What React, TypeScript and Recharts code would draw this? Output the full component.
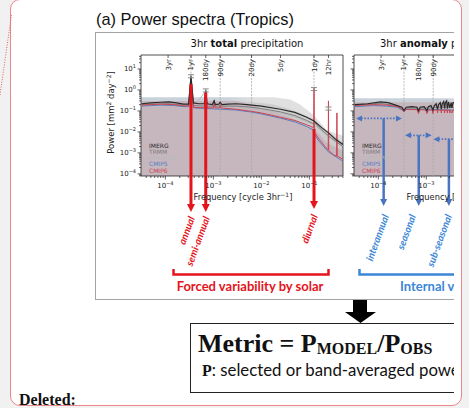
import React from "react";
import {
  ComposedChart,
  Line,
  Area,
  XAxis,
  YAxis,
  ReferenceLine,
  ReferenceArea,
  Scatter,
} from "recharts";

// frequency in cycles per 3hr, power in mm^2 day^-2
const X_DOMAIN: [number, number] = [3.11e-5, 0.502];
const X_DOMAIN_ANOM: [number, number] = [3.11e-5, 4.15e-3]; // right part is cut off by the page
const Y_DOMAIN: [number, number] = [7.9e-5, 46.4];

const xMajor = [1e-4, 1e-3, 1e-2, 1e-1];
const yMajor = [1e-4, 1e-3, 1e-2, 1e-1, 1, 10];

const periodNames = ["3yr", "1yr", "180dy", "90dy", "20dy", "5dy", "1dy", "12hr"];
const periodFreqs = [1.14e-4, 3.42e-4, 6.94e-4, 1.39e-3, 6.25e-3, 0.025, 0.125, 0.25];
const periodGrid = [false, true, false, true, true, false, true, false];

const seriesNames = ["IMERG", "TRMM", "CMORPH", "CMIP5", "CMIP6"];

// --- 3hr total precipitation ---
const imergTotal = [
  [3.2e-5, 0.22], [5e-5, 0.24], [8e-5, 0.26], [1.2e-4, 0.27], [1.7e-4, 0.24], [2.4e-4, 0.21],
  [3.05e-4, 0.21], [3.42e-4, 4.5], [3.85e-4, 0.24], [5e-4, 0.22], [6.5e-4, 0.22], [6.94e-4, 0.95],
  [7.4e-4, 0.22], [9.5e-4, 0.2], [1.04e-3, 0.3], [1.1e-3, 0.2], [1.3e-3, 0.21], [1.39e-3, 0.26],
  [1.5e-3, 0.2], [2e-3, 0.21], [3e-3, 0.22], [5e-3, 0.2], [1e-2, 0.17], [0.025, 0.12], [0.05, 0.085],
  [0.088, 0.05], [0.125, 0.033], [0.18, 0.016], [0.25, 0.009], [0.35, 0.0045], [0.5, 0.0025],
];
const trmmTotal = [
  [3.2e-5, 0.2], [8e-5, 0.22], [1.2e-4, 0.22], [2.4e-4, 0.19], [3.05e-4, 0.19], [3.42e-4, 4.3],
  [3.85e-4, 0.18], [6.5e-4, 0.17], [6.94e-4, 0.9], [7.4e-4, 0.17], [1e-3, 0.17], [3e-3, 0.17],
  [6.25e-3, 0.15], [1e-2, 0.13], [0.025, 0.09], [0.05, 0.06], [0.088, 0.035], [0.12, 0.025],
  [0.13, 0.027], [0.16, 0.016], [0.25, 0.0065], [0.35, 0.0035], [0.5, 0.002],
];
const cmorphTotal = [
  [3.2e-5, 0.19], [1.2e-4, 0.2], [3.05e-4, 0.18], [3.42e-4, 4.0], [3.85e-4, 0.17], [6.94e-4, 0.85],
  [7.4e-4, 0.16], [3e-3, 0.16], [1e-2, 0.12], [0.025, 0.08], [0.05, 0.052], [0.088, 0.03],
  [0.125, 0.022], [0.16, 0.014], [0.25, 0.006], [0.5, 0.0022],
];
const cmip5Total = [
  [3.2e-5, 0.17], [8e-5, 0.19], [1.5e-4, 0.18], [2.6e-4, 0.16], [3.05e-4, 0.16], [3.42e-4, 1.5],
  [3.85e-4, 0.14], [6.5e-4, 0.13], [6.94e-4, 0.5], [7.4e-4, 0.13], [3e-3, 0.11], [6.25e-3, 0.088],
  [1e-2, 0.072], [0.025, 0.045], [0.05, 0.03], [0.088, 0.018], [0.123, 0.012], [0.127, 0.0075],
  [0.16, 0.0035], [0.25, 0.0011], [0.5, 0.0004],
];
const cmip6Total = [
  [3.2e-5, 0.19], [8e-5, 0.21], [1.5e-4, 0.2], [2.6e-4, 0.17], [3.05e-4, 0.17], [3.42e-4, 2.2],
  [3.85e-4, 0.15], [6.5e-4, 0.14], [6.94e-4, 0.8], [7.4e-4, 0.14], [1e-3, 0.14], [1.04e-3, 0.32],
  [1.09e-3, 0.14], [1.35e-3, 0.14], [1.39e-3, 0.2], [1.43e-3, 0.14], [3e-3, 0.12], [6.25e-3, 0.095],
  [1e-2, 0.08], [0.025, 0.05], [0.05, 0.035], [0.088, 0.022], [0.123, 0.016], [0.125, 1.2],
  [0.127, 0.0095], [0.16, 0.0045], [0.22, 0.0018], [0.247, 0.0014], [0.25, 0.3], [0.253, 0.0013],
  [0.32, 0.0008], [0.37, 0.0007], [0.375, 0.08], [0.38, 0.0007], [0.5, 0.0005],
];
const shadeTotalF = [3.1e-5, 3e-3, 6.25e-3, 1e-2, 0.018, 0.04, 0.064, 0.125, 0.23, 0.51];
const shadeTotalEnv = [0.45, 0.45, 0.45, 0.45, 0.45, 0.35, 0.2, 0.06, 0.012, 0.0065];
const shadeTotalObs = [0.3, 0.3, 0.27, 0.24, 0.2, 0.12, 0.08, 0.04, 0.012, 0.003];
const shadeTotalMod = [0.3, 0.3, 0.2, 0.12, 0.09, 0.05, 0.03, 0.015, 0.003, 0.0012];
const obsPeaksTotal = [[3.42e-4, 4.5], [6.94e-4, 0.95], [0.125, 1.1], [0.25, 0.13]];
const forcedArrows = [
  { f: 3.42e-4, from: 1.9, to: 1.5e-6 },
  { f: 6.94e-4, from: 0.75, to: 1.5e-6 },
  { f: 0.125, from: 0.014, to: 2.1e-6 },
];

// --- 3hr anomaly precipitation ---
const imergAnom = [
  [3.2e-5, 0.2], [6e-5, 0.22], [1.1e-4, 0.27], [1.6e-4, 0.25], [2.3e-4, 0.19], [3.1e-4, 0.15],
  [3.42e-4, 0.105], [3.8e-4, 0.15], [5e-4, 0.16], [6.4e-4, 0.15], [6.85e-4, 0.1], [7.4e-4, 0.15],
  [9e-4, 0.16], [1.03e-3, 0.1], [1.1e-3, 0.16], [1.25e-3, 0.18], [1.37e-3, 0.11], [1.45e-3, 0.17],
  [1.6e-3, 0.22], [1.71e-3, 0.12], [1.8e-3, 0.2], [1.95e-3, 0.25], [2.05e-3, 0.12], [2.15e-3, 0.22],
  [2.3e-3, 0.28], [2.4e-3, 0.13], [2.5e-3, 0.25], [2.65e-3, 0.3], [2.74e-3, 0.13], [2.9e-3, 0.27],
  [3.08e-3, 0.14], [3.3e-3, 0.25], [3.42e-3, 0.14], [3.6e-3, 0.25], [1e-2, 0.2],
];
const trmmAnom = [
  [3.2e-5, 0.19], [1.1e-4, 0.23], [2.3e-4, 0.18], [3.42e-4, 0.1], [3.8e-4, 0.14], [6.4e-4, 0.14],
  [6.85e-4, 0.1], [7.4e-4, 0.14], [1.33e-3, 0.14], [1.37e-3, 0.1], [1.45e-3, 0.15], [3.6e-3, 0.15],
  [1e-2, 0.15],
];
const cmorphAnom = [
  [3.2e-5, 0.17], [1.1e-4, 0.2], [3.42e-4, 0.1], [3.8e-4, 0.13], [3.6e-3, 0.13], [1e-2, 0.13],
];
const cmip5Anom = [
  [3.2e-5, 0.16], [8e-5, 0.18], [1.5e-4, 0.17], [2.5e-4, 0.15], [3.42e-4, 0.1], [3.8e-4, 0.12],
  [6e-4, 0.12], [1e-3, 0.12], [3.6e-3, 0.11], [1e-2, 0.11],
];
const cmip6Anom = [
  [3.2e-5, 0.18], [8e-5, 0.2], [1.5e-4, 0.19], [2.5e-4, 0.16], [3.1e-4, 0.13], [3.42e-4, 0.09],
  [3.8e-4, 0.12], [6.4e-4, 0.115], [6.85e-4, 0.075], [7.4e-4, 0.115], [9.8e-4, 0.11], [1.03e-3, 0.075],
  [1.1e-3, 0.11], [1.33e-3, 0.11], [1.37e-3, 0.075], [1.42e-3, 0.11], [1.68e-3, 0.11], [1.71e-3, 0.08],
  [1.75e-3, 0.11], [2.02e-3, 0.11], [2.05e-3, 0.08], [2.09e-3, 0.11], [2.37e-3, 0.11], [2.4e-3, 0.08],
  [2.44e-3, 0.11], [2.71e-3, 0.11], [2.74e-3, 0.08], [2.78e-3, 0.11], [3.05e-3, 0.11], [3.08e-3, 0.08],
  [3.12e-3, 0.11], [3.42e-3, 0.08], [3.6e-3, 0.11], [1e-2, 0.11],
];
const shadeAnomF = [3.1e-5, 0.51];
const shadeAnomEnv = [0.4, 0.4];
const shadeAnomObs = [0.26, 0.26];
const shadeAnomMod = [0.26, 0.26];
const internalArrows = [
  { f: 1.29e-4, from: 0.044, to: 2.9e-6 },
  { f: 6.94e-4, from: 0.0069, to: 2.9e-6 },
  { f: 2.95e-3, from: 0.0045, to: 2.9e-6 },
];
const internalBands = [
  { lo: 3.43e-5, hi: 3.1e-4, p: 0.044 },
  { lo: 3.6e-4, hi: 1.29e-3, p: 0.0069 },
  { lo: 1.4e-3, hi: 1e-2, p: 0.0045 },
];

const COLORS: Record<string, string> = {
  IMERG: "#2a2a2a",
  TRMM: "#7d7d7d",
  CMORPH: "#b9b9b9",
  CMIP5: "#5a80bf",
  CMIP6: "#cc4452",
};
const DRAW_ORDER = ["CMORPH", "TRMM", "CMIP5", "CMIP6", "IMERG"];
const RED = "#e5141c";
const BLUE = "#4a74c0";
const LBLUE = "#3b86d6";
const MPL = "DejaVu Sans, sans-serif";
const CAL = "Lato, 'Open Sans', sans-serif";

const toPts = (a: number[][]) => a.map(([f, p]) => ({ f, p }));

function logTicks(lo: number, hi: number) {
  const out: number[] = [];
  for (let k = -6; k <= 2; k++) {
    for (let m = 1; m <= 9; m++) {
      const v = m * Math.pow(10, k);
      if (v >= lo && v <= hi) out.push(v);
    }
  }
  return out;
}
const yTicks = logTicks(Y_DOMAIN[0], Y_DOMAIN[1]);

const isMajor = (v: number, majors: number[]) => majors.some((m) => Math.abs(m - v) / m < 1e-6);
const expo = (v: number) => {
  const e = Math.round(Math.log10(v));
  return e < 0 ? `\u2212${-e}` : `${e}`;
};

const XTick = (props: any) => {
  const { x, y, payload } = props;
  const major = isMajor(payload.value, xMajor);
  return (
    <g>
      <line x1={x} x2={x} y1={y} y2={y + (major ? 3.5 : 2)} stroke="#222" strokeWidth={0.7} />
      {major && (
        <text x={x} y={y + 12} textAnchor="middle" fontSize={7} fontFamily={MPL} fill="#222">
          10
          <tspan dy={-3} fontSize={5}>
            {expo(payload.value)}
          </tspan>
        </text>
      )}
    </g>
  );
};

const makeYTick = (labels: boolean) => (props: any) => {
  const { x, y, payload } = props;
  const major = isMajor(payload.value, yMajor);
  return (
    <g>
      <line x1={x - (major ? 3.5 : 2)} x2={x} y1={y} y2={y} stroke="#222" strokeWidth={0.7} />
      {labels && major && (
        <text x={x - 5} y={y + 2.5} textAnchor="end" fontSize={7} fontFamily={MPL} fill="#222">
          10
          <tspan dy={-3} fontSize={5}>
            {expo(payload.value)}
          </tspan>
        </text>
      )}
    </g>
  );
};

const periodLabel = (text: string) => (props: any) => {
  const vb = props.viewBox || {};
  const x = vb.x;
  const y = vb.y;
  return (
    <g>
      <line x1={x} x2={x} y1={y} y2={y + 3} stroke="#222" strokeWidth={0.7} />
      <text
        transform={`translate(${x + 2.5},${y + 4}) rotate(-90)`}
        textAnchor="end"
        fontSize={7}
        fontFamily={MPL}
        fill="#222"
      >
        {text}
      </text>
    </g>
  );
};

const vArrow = (color: string, w: number, hw: number, hl: number) => (props: any) => {
  const { x1, y1, y2 } = props;
  const top = Math.min(y1, y2);
  const bot = Math.max(y1, y2);
  return (
    <g>
      <line x1={x1} x2={x1} y1={top} y2={bot - hl + 1} stroke={color} strokeWidth={w} />
      <polygon points={`${x1 - hw},${bot - hl} ${x1 + hw},${bot - hl} ${x1},${bot}`} fill={color} />
    </g>
  );
};

const hArrow = (props: any) => {
  const { x1, x2, y1 } = props;
  const l = Math.min(x1, x2);
  const r = Math.max(x1, x2);
  return (
    <g fill={BLUE}>
      <line x1={l + 5} x2={r - 5} y1={y1} y2={y1} stroke={BLUE} strokeWidth={1.8} strokeDasharray="1.6 1.6" />
      <polygon points={`${l},${y1} ${l + 6},${y1 - 3} ${l + 6},${y1 + 3}`} />
      <polygon points={`${r},${y1} ${r - 6},${y1 - 3} ${r - 6},${y1 + 3}`} />
    </g>
  );
};

const ObsMark = (props: any) => {
  const { cx, cy } = props;
  return (
    <g stroke="#8a8a8a" strokeWidth={1}>
      <line x1={cx - 3} x2={cx + 3} y1={cy - 1.5} y2={cy - 1.5} />
      <line x1={cx - 3} x2={cx + 3} y1={cy + 1.5} y2={cy + 1.5} />
      <line x1={cx} x2={cx} y1={cy - 1.5} y2={cy + 1.5} />
    </g>
  );
};

type SpectrumProps = {
  gid: string;
  width: number;
  xDomain: [number, number];
  series: Record<string, number[][]>;
  shadeF: number[];
  env: number[];
  obs: number[];
  mod: number[];
  yLabels: boolean;
  peaks?: number[][];
  arrows: { f: number; from: number; to: number }[];
  arrowColor: string;
  bands?: { lo: number; hi: number; p: number }[];
};

function Spectrum(p: SpectrumProps) {
  const table = p.shadeF.map((f, i) => ({ f, env: p.env[i], obs: p.obs[i], mod: p.mod[i] }));
  const xTicks = logTicks(p.xDomain[0], p.xDomain[1]);
  return (
    <ComposedChart width={p.width} height={260} data={table} margin={{ top: 22, right: 12, bottom: 93, left: 6 }}>
      <defs>
        <linearGradient id={p.gid} x1="0" y1="0" x2="1" y2="0">
          <stop offset="0.42" stopColor="#c9d1db" />
          <stop offset="0.56" stopColor="#e0e0e0" />
        </linearGradient>
      </defs>
      <XAxis
        dataKey="f"
        type="number"
        scale="log"
        domain={p.xDomain}
        allowDataOverflow
        ticks={xTicks}
        interval={0}
        tick={XTick}
        tickSize={0}
        tickMargin={0}
        axisLine={false}
        tickLine={false}
        height={24}
      />
      <YAxis
        type="number"
        scale="log"
        domain={Y_DOMAIN}
        allowDataOverflow
        ticks={yTicks}
        interval={0}
        tick={makeYTick(p.yLabels)}
        tickSize={0}
        tickMargin={0}
        axisLine={false}
        tickLine={false}
        width={40}
      />
      <Area dataKey="env" type="linear" baseValue={1e-7} stroke="none" fill={`url(#${p.gid})`} fillOpacity={1} isAnimationActive={false} legendType="none" />
      <Area dataKey="obs" type="linear" baseValue={1e-7} stroke="none" fill="#cdcdcd" fillOpacity={1} isAnimationActive={false} legendType="none" />
      <Area dataKey="mod" type="linear" baseValue={1e-7} stroke="none" fill="#c6b7bf" fillOpacity={1} isAnimationActive={false} legendType="none" />
      {periodFreqs.map((f, i) => (
        <ReferenceLine
          key={periodNames[i]}
          x={f}
          stroke={periodGrid[i] ? "#a8a8a8" : "none"}
          strokeWidth={0.8}
          strokeDasharray="2 1.2"
          label={periodLabel(periodNames[i])}
        />
      ))}
      {DRAW_ORDER.map((name) => (
        <Line
          key={name}
          data={toPts(p.series[name])}
          dataKey="p"
          name={name}
          type="linear"
          stroke={COLORS[name]}
          strokeWidth={name === "IMERG" ? 1.2 : 1}
          dot={false}
          isAnimationActive={false}
        />
      ))}
      {p.peaks && (
        <Scatter data={toPts(p.peaks)} dataKey="p" shape={ObsMark} isAnimationActive={false} legendType="none" />
      )}
      {(p.bands || []).map((b, i) => (
        <ReferenceLine
          key={`b${i}`}
          segment={[{ x: b.lo, y: b.p }, { x: b.hi, y: b.p }]}
          ifOverflow="visible"
          shape={hArrow}
        />
      ))}
      {p.arrows.map((a, i) => (
        <ReferenceLine
          key={`a${i}`}
          segment={[{ x: a.f, y: a.from }, { x: a.f, y: a.to }]}
          ifOverflow="visible"
          shape={p.arrowColor === RED ? vArrow(RED, 3, 4, 8) : vArrow(BLUE, 2.5, 3.5, 7)}
        />
      ))}
      <ReferenceArea
        x1={p.xDomain[0]}
        x2={p.xDomain[1]}
        y1={Y_DOMAIN[0]}
        y2={Y_DOMAIN[1]}
        fill="none"
        stroke="#222"
        strokeWidth={0.8}
        ifOverflow="visible"
      />
    </ComposedChart>
  );
}

const legendRows = [147.5, 153.8, 160.1, 166.4, 172.7];

function SeriesLegend({ x }: { x: number }) {
  return (
    <g fontFamily={MPL} fontSize={6}>
      {seriesNames.map((n, i) => (
        <text key={n} x={x} y={legendRows[i]} fill={COLORS[n]}>
          {n}
        </text>
      ))}
    </g>
  );
}

const rotLabel = (text: string, x: number, y: number, color: string) => (
  <text
    key={text}
    transform={`translate(${x},${y}) rotate(-70)`}
    textAnchor="end"
    fontFamily={CAL}
    fontWeight="bold"
    fontStyle="italic"
    fontSize={10}
    fill={color}
  >
    {text}
  </text>
);

export default function App() {
  const totalSeries = { IMERG: imergTotal, TRMM: trmmTotal, CMORPH: cmorphTotal, CMIP5: cmip5Total, CMIP6: cmip6Total };
  const anomSeries = { IMERG: imergAnom, TRMM: trmmAnom, CMORPH: cmorphAnom, CMIP5: cmip5Anom, CMIP6: cmip6Anom };
  return (
    <div style={{ position: "absolute", left: 0, top: 0, width: 469, height: 408, overflow: "hidden", background: "#f1f1f1" }}>
      <div
        style={{
          position: "absolute",
          left: 10,
          top: -1,
          width: 452,
          height: 407,
          boxSizing: "border-box",
          border: "1.5px solid #e8868c",
          borderRadius: 10,
          background: "#fff",
        }}
      />
      <div style={{ position: "absolute", left: 0, top: 0, width: 454, height: 408, overflow: "hidden" }}>
        <div style={{ position: "absolute", left: 95, top: 33 }}>
          <Spectrum
            gid="envTotal"
            width={260}
            xDomain={X_DOMAIN}
            series={totalSeries}
            shadeF={shadeTotalF}
            env={shadeTotalEnv}
            obs={shadeTotalObs}
            mod={shadeTotalMod}
            yLabels
            peaks={obsPeaksTotal}
            arrows={forcedArrows}
            arrowColor={RED}
          />
        </div>
        <div style={{ position: "absolute", left: 308, top: 33 }}>
          <Spectrum
            gid="envAnom"
            width={160}
            xDomain={X_DOMAIN_ANOM}
            series={anomSeries}
            shadeF={shadeAnomF}
            env={shadeAnomEnv}
            obs={shadeAnomObs}
            mod={shadeAnomMod}
            yLabels={false}
            arrows={internalArrows}
            arrowColor={BLUE}
            bands={internalBands}
          />
        </div>
        <svg width={469} height={408} style={{ position: "absolute", left: 0, top: 0, pointerEvents: "none" }}>
          <rect x={95.5} y={32.5} width={420} height={267} fill="none" stroke="#a3a3a3" strokeWidth={1} />
          <text x={96} y={25} fontFamily="Liberation Sans, Arial, sans-serif" fontSize={16.4} fill="#111">
            (a) Power spectra (Tropics)
          </text>
          <text x={247} y={47} textAnchor="middle" fontFamily={MPL} fontSize={10} fill="#111">
            3hr <tspan fontWeight="bold">total</tspan> precipitation
          </text>
          <text x={380} y={47} fontFamily={MPL} fontSize={10} fill="#111">
            3hr <tspan fontWeight="bold">anomaly</tspan> precipitation
          </text>
          <text transform="translate(113.5,112.5) rotate(-90)" textAnchor="middle" fontFamily={MPL} fontSize={8.5} fill="#222">
            Power [mm<tspan dy={-3} fontSize={6}>2</tspan>
            <tspan dy={3}> day</tspan>
            <tspan dy={-3} fontSize={6}>{"\u22122"}</tspan>
            <tspan dy={3}>]</tspan>
          </text>
          {[243, 456].map((cx) => (
            <text key={cx} x={cx} y={199.5} textAnchor="middle" fontFamily={MPL} fontSize={8.3} fill="#222">
              Frequency [cycle 3hr<tspan dy={-3} fontSize={6}>{"\u22121"}</tspan>
              <tspan dy={3}>]</tspan>
            </text>
          ))}
          <SeriesLegend x={149} />
          <SeriesLegend x={362} />
          {rotLabel("annual", 195, 218, RED)}
          {rotLabel("semi-annual", 210, 218, RED)}
          {rotLabel("diurnal", 318, 216, RED)}
          {rotLabel("interannual", 389, 216, LBLUE)}
          {rotLabel("seasonal", 416, 216, LBLUE)}
          {rotLabel("sub-seasonal", 452, 216, LBLUE)}
          <path d="M173.5,269 V274.5 H328.5 V269" fill="none" stroke={RED} strokeWidth={2.5} />
          <path d="M359.5,269 V274.5 H470" fill="none" stroke={LBLUE} strokeWidth={2.5} />
          <text x={250} y={291} textAnchor="middle" fontFamily={CAL} fontWeight="bold" fontSize={13} fill={RED}>
            Forced variability by solar
          </text>
          <text x={400} y={291} fontFamily={CAL} fontWeight="bold" fontSize={13} fill={LBLUE}>
            Internal variability
          </text>
          <rect x={353} y={300} width={14} height={12.5} fill="#000" />
          <polygon points="345,312 376,312 360.5,323" fill="#000" />
          <rect x={190.5} y={323.5} width={300} height={69} fill="#fff" stroke="#222" strokeWidth={1} />
          <text x={198} y={352} fontFamily="Liberation Serif, serif" fontWeight="bold" fontSize={26} fill="#111">
            Metric = P<tspan fontSize={16} dy={1.5}>MODEL</tspan>
            <tspan dy={-1.5}>/P</tspan>
            <tspan fontSize={16} dy={1.5}>OBS</tspan>
          </text>
          <text x={202} y={376} fontFamily={CAL} fontSize={16.8} fill="#111">
            <tspan fontFamily="Liberation Serif, serif" fontWeight="bold" fontSize={16}>P</tspan>: selected or band-averaged power
          </text>
        </svg>
      </div>
      <svg width={469} height={408} style={{ position: "absolute", left: 0, top: 0, pointerEvents: "none" }}>
        <line x1={0} y1={95} x2={11.5} y2={15} stroke="#e0606a" strokeWidth={1} strokeDasharray="1 1.5" />
        <text x={19} y={405} fontFamily="Liberation Serif, serif" fontWeight="bold" fontSize={16} fill="#111">
          Deleted:
        </text>
      </svg>
    </div>
  );
}
